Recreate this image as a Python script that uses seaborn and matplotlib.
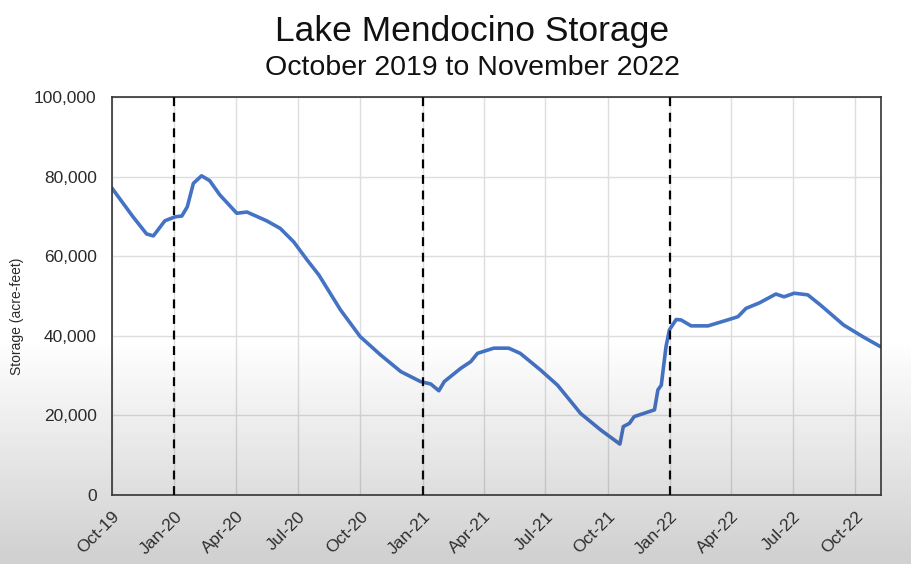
import numpy as np
import seaborn as sns
import pandas as pd
import matplotlib.pyplot as plt
import matplotlib.dates as mdates
from matplotlib.ticker import FuncFormatter

# storage readings
dates = ['2019-10-01', '2019-11-01', '2019-11-21', '2019-12-01', '2019-12-18',
         '2020-01-02', '2020-01-12', '2020-01-20', '2020-01-29', '2020-02-10',
         '2020-02-22', '2020-03-08', '2020-04-02', '2020-04-17', '2020-05-16',
         '2020-06-05', '2020-06-25', '2020-07-15', '2020-08-01', '2020-09-02',
         '2020-10-01', '2020-10-31', '2020-11-30', '2020-12-29', '2021-01-13',
         '2021-01-25', '2021-02-02', '2021-02-26', '2021-03-13', '2021-03-23',
         '2021-04-16', '2021-05-08', '2021-05-25', '2021-06-24', '2021-07-19',
         '2021-08-22', '2021-09-21', '2021-10-19', '2021-10-24', '2021-11-02',
         '2021-11-09', '2021-12-09', '2021-12-14', '2021-12-19', '2021-12-26',
         '2021-12-31', '2022-01-10', '2022-01-17', '2022-02-01', '2022-02-26',
         '2022-03-27', '2022-04-11', '2022-04-23', '2022-05-13', '2022-06-06',
         '2022-06-18', '2022-07-03', '2022-07-23', '2022-08-11', '2022-09-14',
         '2022-10-14', '2022-11-07']
storage = [77100, 69900, 65600, 65100, 68900,
           69900, 70100, 72400, 78300, 80200,
           79000, 75400, 70800, 71100, 68900,
           67000, 63600, 59000, 55300, 46500,
           39800, 35200, 31000, 28500, 27900,
           26200, 28500, 31800, 33500, 35600,
           36900, 36900, 35600, 31400, 27600,
           20500, 16300, 12800, 17200, 18000,
           19700, 21400, 26400, 27600, 37300,
           41500, 44100, 44000, 42500, 42500,
           44000, 44800, 46900, 48300, 50500,
           49800, 50700, 50300, 47700, 42700,
           39600, 37300]
water_years = ['2020-01-01', '2021-01-01', '2022-01-01']
tick_dates = pd.date_range('2019-10-01', '2022-10-01', freq='3MS')

df = pd.DataFrame({'date': pd.to_datetime(dates), 'storage': storage})

sns.set_style('white')
plt.rcParams['font.family'] = ['Liberation Sans', 'DejaVu Sans']

fig = plt.figure(figsize=(9.12, 5.64), dpi=100)
ax = fig.add_axes([0.1228, 0.1223, 0.8432, 0.7057])

sns.lineplot(data=df, x='date', y='storage', color='#4472C4', linewidth=2.6, ax=ax)

# dashed markers at the start of each calendar year
for d in water_years:
    ax.axvline(pd.Timestamp(d), color='black', linestyle=(0, (4, 3)), linewidth=1.6, zorder=3)

ax.set_xlim(pd.Timestamp('2019-10-01'), pd.Timestamp('2022-11-08'))
ax.set_ylim(0, 100000)
ax.set_yticks(range(0, 100001, 20000))
ax.yaxis.set_major_formatter(FuncFormatter(lambda v, p: f'{int(v):,}'))
ax.set_xticks(tick_dates)
ax.xaxis.set_major_formatter(mdates.DateFormatter('%b-%y'))
plt.setp(ax.get_xticklabels(), rotation=45, ha='right', rotation_mode='anchor')
ax.tick_params(axis='both', labelsize=12.5, length=0, colors='#2a2a2a')
ax.tick_params(axis='y', pad=11)
ax.tick_params(axis='x', pad=10)
ax.grid(True, color='#dddddd', linewidth=1)
ax.set_axisbelow(True)
for s in ax.spines.values():
    s.set_color('#333333')
    s.set_linewidth(1.2)

ax.set_xlabel('')
ax.set_ylabel('Storage (acre-feet)', fontsize=10, color='#2a2a2a')
ax.yaxis.set_label_coords(-0.114, 0.45)

fig.text(0.518, 0.945, 'Lake Mendocino Storage', ha='center', va='center', fontsize=25.5, color='#111111')
fig.text(0.518, 0.880, 'October 2019 to November 2022', ha='center', va='center', fontsize=20.5, color='#111111')

# soft grey shading toward the bottom, as in the screenshot
shade = fig.add_axes([0, 0, 1, 1], zorder=10)
shade.axis('off')
rgba = np.zeros((564, 1, 4))
rgba[:, 0, :3] = 0.25
rgba[:, 0, 3] = np.clip((np.arange(564) - 340) / 215, 0, 1) * 0.24
shade.imshow(rgba, aspect='auto', extent=(0, 1, 0, 1), origin='upper')

fig.savefig('out.png', dpi=100)
